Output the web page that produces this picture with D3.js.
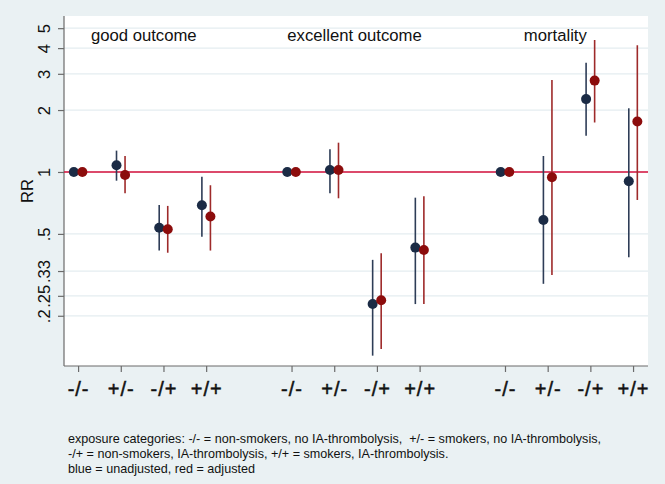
<!DOCTYPE html>
<html><head><meta charset="utf-8">
<script src="https://cdn.jsdelivr.net/npm/d3@7"></script>
<style>
html,body{margin:0;padding:0;background:#eaf1f3;}
svg{display:block;font-family:"Liberation Sans",Arial,Helvetica,sans-serif;}
</style></head>
<body>
<svg id="chart" width="665" height="484"></svg>
<script>
// ---- data ----
const groups = ["good outcome", "excellent outcome", "mortality"];
const categories = ["-/-", "+/-", "-/+", "+/+"];
const unadjRR = [[1, 1.078, 0.536, 0.689], [1, 1.023, 0.228, 0.429], [1, 0.584, 2.26, 0.901]];
const unadjLo = [[1, 0.907, 0.415, 0.485], [1, 0.788, 0.128, 0.228], [1, 0.286, 1.50, 0.385]];
const unadjHi = [[1, 1.27, 0.691, 0.949], [1, 1.289, 0.374, 0.750], [1, 1.196, 3.40, 2.04]];
const adjRR = [[1, 0.967, 0.527, 0.607], [1, 1.023, 0.238, 0.418], [1, 0.942, 2.78, 1.76]];
const adjLo = [[1, 0.788, 0.405, 0.415], [1, 0.745, 0.138, 0.228], [1, 0.316, 1.74, 0.731]];
const adjHi = [[1, 1.196, 0.684, 0.862], [1, 1.388, 0.403, 0.762], [1, 2.80, 4.38, 4.13]];
const yTickValues = [0.2, 0.25, 0.33, 0.5, 1, 2, 3, 4, 5];
const yTickLabels = [".2", ".25", ".33", ".5", "1", "2", "3", "4", "5"];
const footnote = [
  "exposure categories: -/- = non-smokers, no IA-thrombolysis,  +/- = smokers, no IA-thrombolysis,",
  "-/+ = non-smokers, IA-thrombolysis, +/+ = smokers, IA-thrombolysis.",
  "blue = unadjusted, red = adjusted"
];

// ---- layout ----
const plot = {left: 64, right: 648, top: 16, bottom: 366};
const colBlue = "#1b2b45", colRed = "#8c0c0c";
const colBlueCI = "#2e3d57", colRedCI = "#9e2a2a";

const svg = d3.select("#chart");
const x = d3.scaleLinear().domain([0.67, 14.35]).range([plot.left, plot.right]);
const y = d3.scaleLog().domain([0.114, 5.73]).range([plot.bottom, plot.top]);

// build point table
const rows = [];
groups.forEach((g, gi) => {
  categories.forEach((c, ci) => {
    const pos = gi * 5 + ci + 1;
    rows.push({pos, off: -0.1, rr: unadjRR[gi][ci], lo: unadjLo[gi][ci], hi: unadjHi[gi][ci], col: colBlue, ci: colBlueCI});
    rows.push({pos, off: 0.1, rr: adjRR[gi][ci], lo: adjLo[gi][ci], hi: adjHi[gi][ci], col: colRed, ci: colRedCI});
  });
});
const ticks = [];
groups.forEach((g, gi) => categories.forEach((c, ci) => ticks.push({pos: gi * 5 + ci + 1, label: c})));

// plot region
svg.append("rect").attr("x", plot.left).attr("y", plot.top)
  .attr("width", plot.right - plot.left).attr("height", plot.bottom - plot.top).attr("fill", "#ffffff");

// grid
svg.append("g").selectAll("line").data(yTickValues).join("line")
  .attr("x1", plot.left).attr("x2", plot.right)
  .attr("y1", d => y(d)).attr("y2", d => y(d))
  .attr("stroke", "#e4edf0").attr("stroke-width", 1.2);

// y axis
const yAxis = d3.axisLeft(y).tickValues(yTickValues).tickFormat((d, i) => yTickLabels[i]).tickSize(6).tickPadding(2);
const gy = svg.append("g").attr("transform", `translate(${plot.left},0)`).call(yAxis);
gy.select(".domain").attr("d", `M0,${plot.top}V${plot.bottom}`).attr("stroke", "#6b6b6b").attr("stroke-width", 1.2);
gy.selectAll(".tick line").attr("stroke", "#6b6b6b").attr("stroke-width", 1.2);
gy.selectAll(".tick text")
  .attr("font-size", 16.5).attr("fill", "#111").attr("font-family", "Liberation Sans, Arial, sans-serif")
  .attr("transform", "rotate(-90)")
  .attr("x", 0).attr("y", -14).attr("dy", 0)
  .attr("text-anchor", "middle");

// y title
svg.append("text").attr("transform", `translate(33,191) rotate(-90)`)
  .attr("text-anchor", "middle").attr("font-size", 16.5).attr("fill", "#111").text("RR");

// x axis
const xAxis = d3.axisBottom(x).tickValues(ticks.map(t => t.pos)).tickFormat((d, i) => ticks[i].label).tickSize(6).tickPadding(10);
const gx = svg.append("g").attr("transform", `translate(0,${plot.bottom})`).call(xAxis);
gx.select(".domain").attr("d", `M${plot.left},0H${plot.right}`).attr("stroke", "#6b6b6b").attr("stroke-width", 1.2);
gx.selectAll(".tick line").attr("stroke", "#6b6b6b").attr("stroke-width", 1.2);
gx.selectAll(".tick text").attr("font-size", 20).attr("fill", "#111")
  .attr("stroke", "#111").attr("stroke-width", 0.5)
  .attr("font-family", "Liberation Sans, Arial, sans-serif").attr("letter-spacing", "1px");

// reference line at 1
svg.append("line").attr("x1", plot.left).attr("x2", plot.right)
  .attr("y1", y(1)).attr("y2", y(1)).attr("stroke", "#d4103c").attr("stroke-width", 1.4);

// CI lines
svg.append("g").selectAll("line").data(rows.filter(r => r.hi > r.lo)).join("line")
  .attr("x1", d => x(d.pos + d.off)).attr("x2", d => x(d.pos + d.off))
  .attr("y1", d => y(d.lo)).attr("y2", d => y(d.hi))
  .attr("stroke", d => d.ci).attr("stroke-width", 1.6);

// points
svg.append("g").selectAll("circle").data(rows).join("circle")
  .attr("cx", d => x(d.pos + d.off)).attr("cy", d => y(d.rr)).attr("r", 5)
  .attr("fill", d => d.col);

// group labels
const labelShift = [-0.2, -0.6, -0.06];
svg.append("g").selectAll("text").data(groups).join("text")
  .attr("x", (d, i) => x(i * 5 + 1.5 + labelShift[i]))
  .attr("y", 41).attr("font-size", 16.7).attr("fill", "#111").text(d => d);

// footnote
svg.append("g").selectAll("text").data(footnote).join("text")
  .attr("x", 68).attr("y", (d, i) => 443 + i * 15)
  .attr("font-size", 12.6).attr("fill", "#111").attr("xml:space", "preserve")
  .style("white-space", "pre").text(d => d);
</script>
</body></html>
